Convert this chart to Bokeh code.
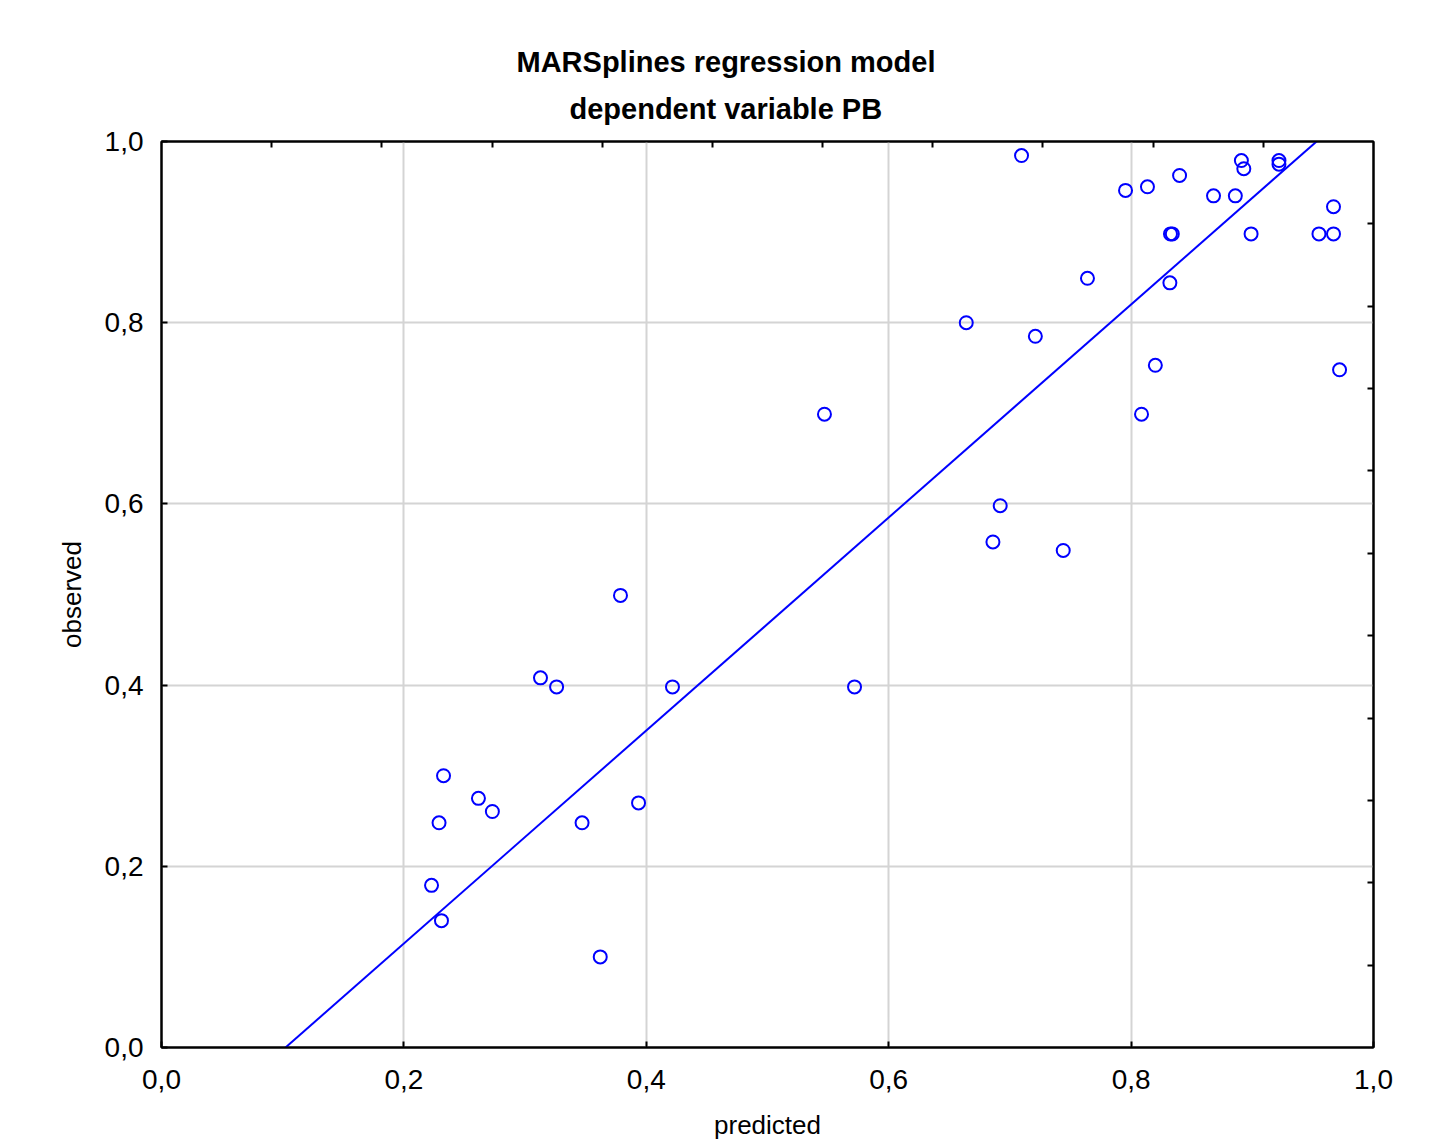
from bokeh.plotting import figure
from bokeh.models import Range1d, LinearAxis, FixedTicker, Title
from bokeh.embed import file_html
from bokeh.resources import INLINE

# ---- data ----
predicted = [0.7096, 0.7954, 0.8135, 0.8400, 0.8680, 0.8860, 0.8910, 0.8930, 0.9220, 0.9220,
             0.8325, 0.8340, 0.8990, 0.9550, 0.9670, 0.9670, 0.7640, 0.8320, 0.6640, 0.7210,
             0.8200, 0.9720, 0.5470, 0.8086, 0.6920, 0.6860, 0.7440, 0.3787, 0.3127, 0.3260,
             0.4216, 0.5718, 0.2327, 0.2615, 0.2730, 0.2290, 0.3470, 0.3936, 0.2228, 0.2310,
             0.3620]
observed = [0.9845, 0.9460, 0.9500, 0.9625, 0.9400, 0.9400, 0.9790, 0.9700, 0.9790, 0.9750,
            0.8980, 0.8980, 0.8980, 0.8980, 0.8980, 0.9280, 0.8490, 0.8440, 0.8000, 0.7850,
            0.7530, 0.7480, 0.6990, 0.6990, 0.5980, 0.5580, 0.5486, 0.4990, 0.4080, 0.3980,
            0.3980, 0.3980, 0.3000, 0.2750, 0.2605, 0.2480, 0.2480, 0.2700, 0.1790, 0.1400,
            0.1000]
fit_slope = 1.1755
fit_intercept = -0.1203
tick_values = [0.0, 0.2, 0.4, 0.6, 0.8, 1.0]
tick_labels = ["0,0", "0,2", "0,4", "0,6", "0,8", "1,0"]
title_lines = ["MARSplines regression model", "dependent variable PB"]
x_label = "predicted"
y_label = "observed"

FONT = "Liberation Sans"

p = figure(width=1443, height=1143, output_backend="svg", toolbar_location=None,
           x_range=Range1d(0, 1), y_range=Range1d(0, 1),
           min_border_left=161, min_border_right=70, min_border_top=141, min_border_bottom=96)
p.title = None
p.background_fill_color = "white"
p.border_fill_color = "white"
p.outline_line_color = "black"
p.outline_line_width = 2

overrides = {v: s for v, s in zip(tick_values, tick_labels)}
for ax in (p.xaxis[0], p.yaxis[0]):
    ax.ticker = FixedTicker(ticks=tick_values)
    ax.major_label_overrides = overrides
    ax.major_label_text_font = FONT
    ax.major_label_text_font_size = "28px"
    ax.major_label_text_color = "black"
    ax.axis_line_width = 2
    ax.axis_line_color = "black"
    ax.major_tick_in = 6
    ax.major_tick_out = 0
    ax.major_tick_line_width = 2
    ax.minor_tick_line_color = None
    ax.axis_label_text_font = FONT
    ax.axis_label_text_font_size = "26px"
    ax.axis_label_text_font_style = "normal"
    ax.axis_label_text_color = "black"

p.xaxis.axis_label = x_label
p.yaxis.axis_label = y_label
p.xaxis.major_label_standoff = 22
p.yaxis.major_label_standoff = 18
p.xaxis.axis_label_standoff = 18
p.yaxis.axis_label_standoff = 15

p.xgrid.ticker = FixedTicker(ticks=tick_values[1:-1])
p.ygrid.ticker = FixedTicker(ticks=tick_values[1:-1])
p.grid.grid_line_color = "#d4d4d4"
p.grid.grid_line_width = 2

# secondary (unlabelled) frame axes on top and right
p.extra_x_ranges = {"top": Range1d(0, 11)}
p.extra_y_ranges = {"right": Range1d(0, 11)}
top_ax = LinearAxis(x_range_name="top", ticker=FixedTicker(ticks=list(range(1, 11))))
right_ax = LinearAxis(y_range_name="right", ticker=FixedTicker(ticks=list(range(1, 11))))
for ax in (top_ax, right_ax):
    ax.major_label_text_font_size = "0px"
    ax.major_label_text_color = None
    ax.major_tick_in = 6
    ax.major_tick_out = 0
    ax.major_tick_line_width = 2
    ax.minor_tick_line_color = None
    ax.axis_line_width = 2
    ax.axis_line_color = "black"
    ax.major_label_standoff = 0
p.add_layout(top_ax, "above")
p.add_layout(right_ax, "right")

# regression line
xs = [0.0, 1.0]
ys = [fit_intercept + fit_slope * x for x in xs]
p.line(xs, ys, line_color="#0000ff", line_width=2)

# points
p.scatter(predicted, observed, marker="circle", size=13, fill_color=None,
          line_color="#0000ff", line_width=2)

# title: two lines
t2 = Title(text=title_lines[1], align="left", offset=408, text_font=FONT,
           text_font_size="29px", text_font_style="bold", text_color="black", standoff=34)
t1 = Title(text=title_lines[0], align="left", offset=355, text_font=FONT,
           text_font_size="29px", text_font_style="bold", text_color="black", standoff=-9)
p.add_layout(t2, "above")
p.add_layout(t1, "above")

open("out.html", "w").write(file_html(p, INLINE))
